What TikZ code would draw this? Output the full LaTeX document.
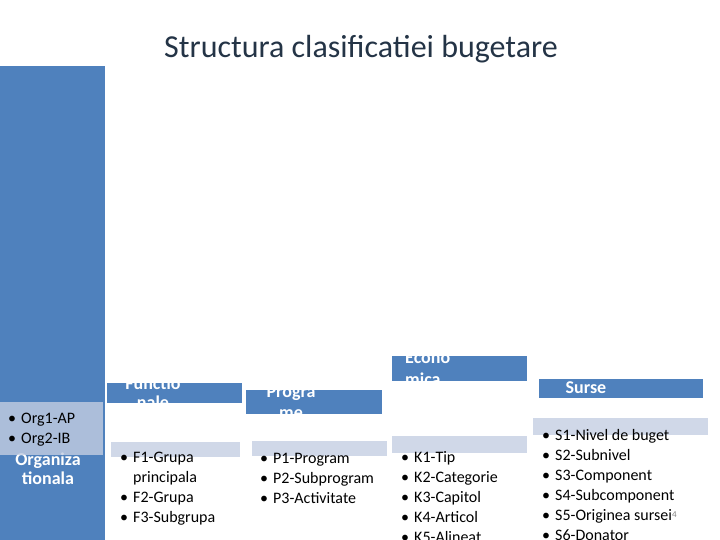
\documentclass[tikz,border=0pt]{standalone}
\usepackage{fontspec}
\setmainfont{Carlito}
\usepackage{xcolor}
\usepackage{tikz}
\usetikzlibrary{positioning, calc}

\definecolor{barblue}{HTML}{4F81BD}
\definecolor{listgray}{RGB}{196,206,226}
\definecolor{titlegray}{HTML}{243446}
\newcommand{\itm}[1]{\makebox[13pt][l]{\textbullet}#1}
\newcommand{\hang}[1]{\hspace*{13pt}#1}

\begin{document}
\begin{tikzpicture}[x=1pt, y=-1pt]
			\tikzstyle{column} = [rectangle, fill=barblue, inner sep=0pt, anchor=north west]
			\tikzstyle{lightbar} = [rectangle, fill=listgray, fill opacity=0.8, inner sep=0pt, anchor=north west]
			\tikzstyle{headtext} = [text=white, inner sep=0pt, anchor=base, font=\fontsize{18}{19}\selectfont\bfseries]
			\tikzstyle{items} = [inner sep=0pt, anchor=base west, font=\fontsize{16}{20}\selectfont]
			
			\useasboundingbox (0,0) rectangle (720,540);
			
			% Title
			\node (title) [anchor=base, text=titlegray, inner sep=0pt, font=\fontsize{32}{36}\selectfont] at (361,58) {Structura clasificatiei bugetare};
			
			% Organizational column
			\node (org) [column, minimum width=105pt, minimum height=474pt] at (0,66) {};
			\node (orgtitle) [headtext] at (48,465) {\parbox[t]{100pt}{\centering Organiza\\tionala}};
			\node (orgbar) [lightbar, minimum width=103pt, minimum height=53pt] at (0,402) {};
			\node (orglist) [items] at (8,423) {\parbox[t]{95pt}{\itm{Org1-AP}\\\itm{Org2-IB}}};
			
			% Header bars
			\node (func) [column, minimum width=135pt, minimum height=20pt] at (107,383) {};
			\node (prog) [column, minimum width=136pt, minimum height=24pt] at (246,390) {};
			\node (econ) [column, minimum width=135pt, minimum height=25pt] at (392,356) {};
			\node (surse) [column, minimum width=164pt, minimum height=19pt] at (539,379) {};
			
			\node (functitle) [headtext] at (153,389) {\parbox[t]{90pt}{\centering Functio\\nale}};
			\node (progtitle) [headtext, font=\fontsize{18}{21}\selectfont\bfseries] at (291,397) {\parbox[t]{90pt}{\centering Progra\\me}};
			\node (econtitle) [headtext, anchor=base west, font=\fontsize{18}{22}\selectfont\bfseries] at (405,363) {\parbox[t]{90pt}{\raggedright Econo\\mica}};
			\node (sursetitle) [headtext] at (586,393) {Surse};
			
			% Light bars
			\node (funcbar) [lightbar, minimum width=129pt, minimum height=15pt] at (111,442) {};
			\node (progbar) [lightbar, minimum width=135pt, minimum height=15pt] at (252,441) {};
			\node (econbar) [lightbar, minimum width=135pt, minimum height=17pt] at (392,436) {};
			\node (sursebar) [lightbar, minimum width=175pt, minimum height=17pt] at (533,418) {};
			
			% Lists
			\node (funclist) [items] at (120,462) {\parbox[t]{120pt}{\itm{F1-Grupa}\\\hang{principala}\\\itm{F2-Grupa}\\\itm{F3-Subgrupa}}};
			\node (proglist) [items] at (260,463) {\parbox[t]{125pt}{\itm{P1-Program}\\\itm{P2-Subprogram}\\\itm{P3-Activitate}}};
			\node (econlist) [items] at (401,462) {\parbox[t]{125pt}{\itm{K1-Tip}\\\itm{K2-Categorie}\\\itm{K3-Capitol}\\\itm{K4-Articol}\\\itm{K5-Alineat}}};
			\node (surselist) [items] at (542,440) {\parbox[t]{170pt}{\itm{S1-Nivel de buget}\\\itm{S2-Subnivel}\\\itm{S3-Component}\\\itm{S4-Subcomponent}\\\itm{S5-Originea sursei}\\\itm{S6-Donator}}};
			
			% Slide number
			\node (slidenum) [anchor=base west, inner sep=0pt, text=gray, font=\fontsize{9}{10}\selectfont] at (672,517) {4};
			
		\end{tikzpicture}
\end{document}
